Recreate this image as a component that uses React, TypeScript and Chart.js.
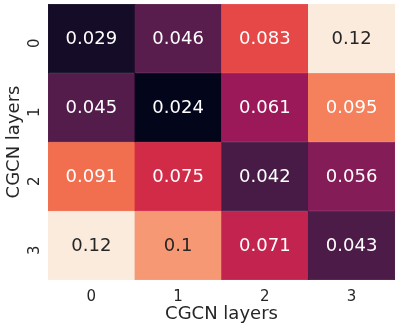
import { useEffect, useRef } from "react";
import { Chart, registerables } from "chart.js";

Chart.register(...registerables);

const xLabels = ["0", "1", "2", "3"];
const yLabels = ["0", "1", "2", "3"];
const row0 = [0.029, 0.046, 0.083, 0.12];
const row1 = [0.045, 0.024, 0.061, 0.095];
const row2 = [0.091, 0.075, 0.042, 0.056];
const row3 = [0.12, 0.1, 0.071, 0.043];
const rows = [row0, row1, row2, row3];
const xTitle = "CGCN layers";
const yTitle = "CGCN layers";
const vmin = 0.024;
const vmax = 0.12;

// seaborn "rocket" colormap stops
const rocket = ["#03051a", "#35193e", "#701f57", "#ad1759", "#e13342", "#f37651", "#f6b48f", "#faebdd"];

function hexToRgb(h: string) {
  return [parseInt(h.slice(1, 3), 16), parseInt(h.slice(3, 5), 16), parseInt(h.slice(5, 7), 16)];
}

function cmap(v: number) {
  let t = (v - vmin) / (vmax - vmin);
  t = Math.max(0, Math.min(1, t));
  const n = rocket.length - 1;
  const i = Math.min(n - 1, Math.floor(t * n));
  const f = t * n - i;
  const a = hexToRgb(rocket[i]);
  const b = hexToRgb(rocket[i + 1]);
  return a.map((x, k) => Math.round(x + (b[k] - x) * f));
}

function rgbStr(c: number[]) {
  return `rgb(${c[0]},${c[1]},${c[2]})`;
}

function luminance(c: number[]) {
  const l = c.map((x) => {
    const s = x / 255;
    return s <= 0.03928 ? s / 12.92 : Math.pow((s + 0.055) / 1.055, 2.4);
  });
  return 0.2126 * l[0] + 0.7152 * l[1] + 0.0722 * l[2];
}

const FONT = "'DejaVu Sans', sans-serif";

export default function App() {
  const ref = useRef<HTMLCanvasElement>(null);
  useEffect(() => {
    document.body.style.margin = "0";
    const canvas = ref.current!;
    const annot = {
      id: "annot",
      afterDatasetsDraw(chart: any) {
        const ctx = chart.ctx;
        ctx.save();
        ctx.font = `18px ${FONT}`;
        ctx.textAlign = "center";
        ctx.textBaseline = "middle";
        chart.data.datasets.forEach((ds: any, r: number) => {
          const meta = chart.getDatasetMeta(r);
          meta.data.forEach((el: any, c: number) => {
            const v = rows[r][c];
            const col = cmap(v);
            ctx.fillStyle = luminance(col) > 0.408 ? "#262626" : "#ffffff";
            ctx.fillText(String(v), el.x, (el.y + el.base) / 2 + 1);
          });
        });
        ctx.restore();
      },
    };
    const chart = new Chart(canvas, {
      type: "bar",
      data: {
        labels: xLabels,
        datasets: rows.map((row, r) => ({
          label: yLabels[r],
          data: row.map(() => [r, r + 1]),
          backgroundColor: row.map((v) => rgbStr(cmap(v))),
          borderColor: row.map((v) => rgbStr(cmap(v))),
          borderWidth: 0.5,
          borderSkipped: false,
          grouped: false,
          barPercentage: 1,
          categoryPercentage: 1,
        })) as any,
      },
      options: {
        responsive: false,
        animation: false,
        events: [],
        layout: { padding: { left: 0, right: 5, top: 4, bottom: 0 } },
        plugins: { legend: { display: false }, tooltip: { enabled: false } },
        scales: {
          x: {
            type: "category",
            grid: { display: false },
            border: { display: false },
            ticks: { color: "#262626", font: { family: FONT, size: 15 }, padding: 0, maxRotation: 0, minRotation: 0 },
            title: { display: true, text: xTitle, color: "#262626", font: { family: FONT, size: 18 }, padding: { top: 0, bottom: 3 } },
            afterFit: (s: any) => { s.height = 48; s.paddingLeft = 0; s.paddingRight = 0; },
          },
          y: {
            type: "linear",
            min: 0,
            max: 4,
            reverse: true,
            grid: { display: false },
            border: { display: false },
            afterBuildTicks: (s: any) => { s.ticks = [0.5, 1.5, 2.5, 3.5].map((v) => ({ value: v })); },
            ticks: {
              color: "#262626",
              font: { family: FONT, size: 15 },
              minRotation: 90,
              maxRotation: 90,
              padding: 5,
              callback: (v: any) => yLabels[Math.floor(Number(v))],
            },
            title: { display: true, text: yTitle, color: "#262626", font: { family: FONT, size: 18 }, padding: { top: 4, bottom: 2 } },
            afterFit: (s: any) => { s.width = 48; s.paddingTop = 0; s.paddingBottom = 0; },
          },
        },
      },
      plugins: [annot],
    });
    return () => chart.destroy();
  }, []);
  return <canvas ref={ref} width={400} height={328} style={{ display: "block" }} />;
}
